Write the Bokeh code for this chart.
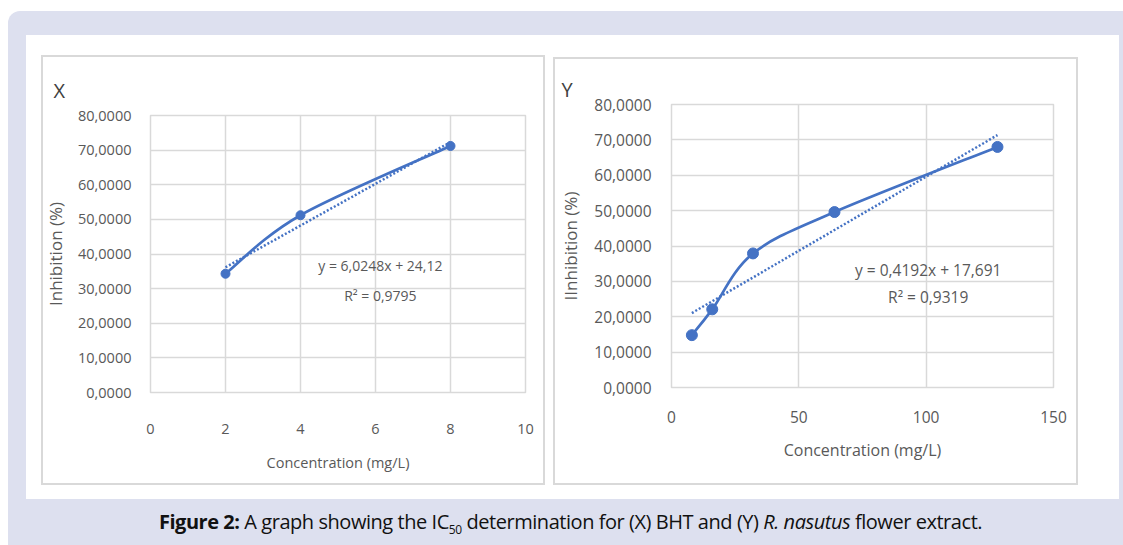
from bokeh.plotting import figure
from bokeh.models import Range1d, FixedTicker, Label, Spacer, Div, Column, Row, GlobalInlineStyleSheet
from bokeh.embed import file_html
from bokeh.resources import INLINE

# ---------------- data ----------------
bht_conc = [2, 4, 8]
bht_inhibition = [34.3, 51.2, 71.2]
bht_slope, bht_intercept, bht_r2 = 6.0248, 24.12, "0,9795"
bht_equation = "y = 6,0248x + 24,12"

ext_conc = [8, 16, 32, 64, 128]
ext_inhibition = [14.8, 22.1, 37.9, 49.6, 68.0]
ext_slope, ext_intercept, ext_r2 = 0.4192, 17.691, "0,9319"
ext_equation = "y = 0,4192x + 17,691"

y_ticks = [0, 10, 20, 30, 40, 50, 60, 70, 80]
y_tick_labels = ["0,0000", "10,0000", "20,0000", "30,0000", "40,0000",
                 "50,0000", "60,0000", "70,0000", "80,0000"]
bht_x_ticks = [0, 2, 4, 6, 8, 10]
ext_x_ticks = [0, 50, 100, 150]

BLUE = "#4472c4"
GRID = "#d9d9d9"
TXT = "#595959"


def smooth_segments(xs, ys, t=1.0 / 6.0):
    segs = dict(x0=[], y0=[], x1=[], y1=[], cx0=[], cy0=[], cx1=[], cy1=[])
    n = len(xs)
    for i in range(n - 1):
        xp, yp = (xs[i - 1], ys[i - 1]) if i > 0 else (xs[i], ys[i])
        xn, yn = (xs[i + 2], ys[i + 2]) if i + 2 < n else (xs[i + 1], ys[i + 1])
        segs["x0"].append(xs[i]); segs["y0"].append(ys[i])
        segs["x1"].append(xs[i + 1]); segs["y1"].append(ys[i + 1])
        segs["cx0"].append(xs[i] + (xs[i + 1] - xp) * t)
        segs["cy0"].append(ys[i] + (ys[i + 1] - yp) * t)
        segs["cx1"].append(xs[i + 1] - (xn - xs[i]) * t)
        segs["cy1"].append(ys[i + 1] - (yn - ys[i]) * t)
    return segs


def make_panel(w, h, xmax, xticks, borders, xs, ys, slope, intercept, eq, r2,
               eq_pos, r2_pos, tag, tag_offset, tag_standoff, ylabel, tick_font, title_font,
               eq_font, tag_font, y_standoff, ylab_standoff, x_standoff, xlab_standoff,
               marker_size):
    left, right, top, bottom = borders
    p = figure(width=w, height=h, x_range=Range1d(0, xmax), y_range=Range1d(0, 80),
               output_backend="svg", toolbar_location=None,
               min_border_left=left, min_border_right=right,
               min_border_top=top, min_border_bottom=bottom)
    p.border_fill_color = None
    p.background_fill_color = "white"
    p.outline_line_color = GRID
    p.outline_line_width = 1.5
    p.styles = {"outline": "2px solid #d9d9d9", "outline-offset": "-2px"}

    p.title.text = tag
    p.title.align = "left"
    p.title.offset = tag_offset
    p.title.standoff = tag_standoff
    p.title.text_font = "Open Sans"
    p.title.text_font_style = "normal"
    p.title.text_font_size = tag_font
    p.title.text_color = "#404040"

    p.xaxis.ticker = FixedTicker(ticks=xticks)
    p.yaxis.ticker = FixedTicker(ticks=y_ticks)
    p.xgrid.ticker = FixedTicker(ticks=xticks)
    p.ygrid.ticker = FixedTicker(ticks=y_ticks)
    p.yaxis.major_label_overrides = dict(zip(y_ticks, y_tick_labels))
    for ax in (p.xaxis, p.yaxis):
        ax.axis_line_color = None
        ax.major_tick_line_color = None
        ax.minor_tick_line_color = None
        ax.major_label_text_font = "Open Sans"
        ax.major_label_text_font_size = tick_font
        ax.major_label_text_color = TXT
        ax.axis_label_text_font = "Open Sans"
        ax.axis_label_text_font_style = "normal"
        ax.axis_label_text_color = TXT
    p.xaxis.major_label_standoff = x_standoff
    p.yaxis.major_label_standoff = y_standoff
    p.xaxis.axis_label = "Concentration (mg/L)"
    p.yaxis.axis_label = ylabel
    p.xaxis.axis_label_text_font_size = title_font[0]
    p.yaxis.axis_label_text_font_size = title_font[1]
    p.xaxis.axis_label_standoff = xlab_standoff
    p.yaxis.axis_label_standoff = ylab_standoff
    for g in (p.xgrid, p.ygrid):
        g.grid_line_color = GRID
        g.grid_line_width = 1.5

    # linear trendline (dotted)
    tx = [min(xs), max(xs)]
    ty = [slope * v + intercept for v in tx]
    p.line(tx, ty, line_color=BLUE, line_width=2.5, line_dash="2 2")

    # smoothed series line
    segs = smooth_segments(xs, ys)
    p.bezier(line_color=BLUE, line_width=2.7, **segs)
    p.scatter(xs, ys, size=marker_size, color=BLUE)

    p.add_layout(Label(x=eq_pos[0], y=eq_pos[1], text=eq, text_align="center",
                       text_baseline="middle", text_font="Open Sans",
                       text_font_size=eq_font, text_color=TXT))
    p.add_layout(Label(x=r2_pos[0], y=r2_pos[1], text="R\u00b2 = " + r2, text_align="center",
                       text_baseline="middle", text_font="Open Sans",
                       text_font_size=eq_font, text_color=TXT))
    return p


pX = make_panel(504, 430, 10, bht_x_ticks, (109, 20, 60, 93),
                bht_conc, bht_inhibition, bht_slope, bht_intercept, bht_equation, bht_r2,
                (6.13, 36.7), (6.13, 28.0), "X", -97, 23, "Inhibition (%)",
                "14.5px", ("14.5px", "17px"), "14px", "20px", 13, 8, 25, 16, 9)

pY = make_panel(525, 428, 150, ext_x_ticks, (118, 25, 47, 98),
                ext_conc, ext_inhibition, ext_slope, ext_intercept, ext_equation, ext_r2,
                (100.8, 33.1), (100.8, 25.7), "Y", -110, 4, "IInhibition (%)",
                "15.5px", ("16px", "17px"), "15.5px", "20px", 14, 9, 17, 13, 11)

white = Row(children=[
    Spacer(width=15, height=464),
    Column(children=[Spacer(width=504, height=20), pX, Spacer(width=504, height=14)]),
    Spacer(width=8, height=464),
    Column(children=[Spacer(width=525, height=22), pY, Spacer(width=525, height=14)]),
    Spacer(width=41, height=464),
], styles={"background-color": "white"})

caption = Div(
    text=("<div style=\"width:1115px;text-align:center;font-family:'Open Sans';"
          "font-size:20px;letter-spacing:-0.45px;line-height:36px;color:#111;\">"
          "<b>Figure 2:</b> A graph showing the IC<sub style=\"font-size:12px;line-height:0;\">50</sub>"
          " determination for (X) BHT and (Y) <i>R. nasutus</i> flower extract.</div>"),
    width=1115, height=46)

bg = Column(children=[
    Spacer(width=1115, height=24),
    Row(children=[Spacer(width=18, height=464), white, Spacer(width=4, height=464)]),
    caption,
], styles={"background-color": "#dde0ef", "border-top-left-radius": "12px"})

root = Column(children=[
    Spacer(width=1123, height=11),
    Row(children=[Spacer(width=8, height=534), bg]),
], stylesheets=[GlobalInlineStyleSheet(css="html, body { margin: 0; padding: 0; overflow: hidden; }")])

open("out.html", "w").write(file_html(root, INLINE))
